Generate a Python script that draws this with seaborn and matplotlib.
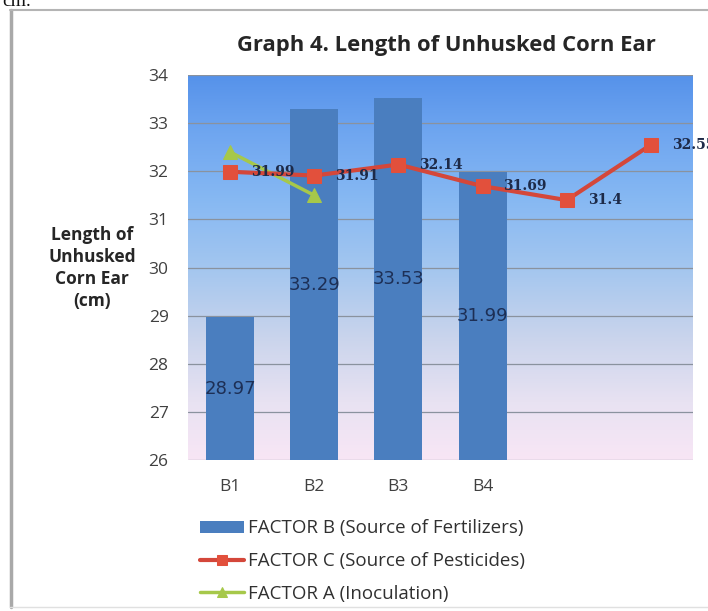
import numpy as np
import pandas as pd
import matplotlib
matplotlib.use("Agg")
import matplotlib.pyplot as plt
import seaborn as sns
from matplotlib.colors import LinearSegmentedColormap
from matplotlib.lines import Line2D

# Data
categories = ["B1", "B2", "B3", "B4"]
factor_b = [28.97, 33.29, 33.53, 31.99]                 # Source of Fertilizers (bars)
factor_c = [31.99, 31.91, 32.14, 31.69, 31.4, 32.55]    # Source of Pesticides (line)
factor_a = [32.4, 31.5]                                 # Inoculation (line)
y_ticks = [26, 27, 28, 29, 30, 31, 32, 33, 34]

label_b = "FACTOR B (Source of Fertilizers)"
label_c = "FACTOR C (Source of Pesticides)"
label_a = "FACTOR A (Inoculation)"

sns.set_theme(style="white")
plt.rcParams["font.family"] = ["Open Sans", "DejaVu Sans"]

W, H = 708, 611
fig = plt.figure(figsize=(W / 100, H / 100), dpi=100)
fig.patch.set_facecolor("white")
ax = fig.add_axes([188 / W, 1 - 460 / H, 505 / W, 385 / H])

# Vertical gradient fill of the plotting area (pink at bottom -> blue at top)
grad_cmap = LinearSegmentedColormap.from_list(
    "bg",
    [(0.00, "#f8e6f5"), (0.15, "#e8e2f2"), (0.32, "#c9d4ec"),
     (0.50, "#a3c6ef"), (0.68, "#86b8f3"), (0.85, "#6fa6f0"), (1.00, "#5692ea")],
)
grad = np.linspace(0, 1, 256).reshape(-1, 1)
ax.imshow(grad, extent=[0, 1, 0, 1], transform=ax.transAxes, origin="lower",
          aspect="auto", cmap=grad_cmap, zorder=0)

# Bars
df_b = pd.DataFrame({"group": categories, "length": factor_b})
sns.barplot(data=df_b, x="group", y="length", color="#4a7ebf", saturation=1,
            width=0.57, ax=ax, zorder=3, label=label_b, linewidth=0,
            edgecolor="#4a7ebf")

# Lines
df_c = pd.DataFrame({"pos": np.arange(len(factor_c)), "length": factor_c})
sns.lineplot(data=df_c, x="pos", y="length", ax=ax, color="#d4473a", linewidth=3,
             marker="s", markersize=10, markerfacecolor="#e2503c",
             markeredgecolor="#e2503c", zorder=5, label=label_c)
df_a = pd.DataFrame({"pos": np.arange(len(factor_a)), "length": factor_a})
sns.lineplot(data=df_a, x="pos", y="length", ax=ax, color="#a6c84a", linewidth=2.5,
             marker="^", markersize=10, markerfacecolor="#a6c84a",
             markeredgecolor="#a6c84a", zorder=4, label=label_a)

# Value labels
for i, v in enumerate(factor_b):
    ax.text(i, (y_ticks[0] + v) / 2, f"{v:.2f}", ha="center", va="center",
            fontsize=13, color="#1d2f55", family="DejaVu Sans", zorder=7)
for i, v in enumerate(factor_c):
    ax.annotate(f"{v:g}", (i, v), xytext=(15, 0), textcoords="offset points",
                ha="left", va="center", fontsize=10, fontweight="bold",
                family="DejaVu Serif", color="#1d2a48", zorder=8,
                annotation_clip=False)

# Axes styling
ax.set_xlim(-0.5, 5.5)
ax.set_ylim(y_ticks[0], y_ticks[-1])
ax.set_yticks(y_ticks)
ax.set_xticks(range(len(categories)))
ax.set_xticklabels(categories)
ax.set_xlabel("")
ax.set_ylabel("")
ax.grid(axis="y", color="#8a929e", linewidth=0.9)
ax.grid(axis="x", visible=False)
ax.set_axisbelow(True)
for s in ax.spines.values():
    s.set_visible(False)
ax.tick_params(axis="both", length=0, labelsize=12.5, labelcolor="#404040")
ax.tick_params(axis="y", pad=14)
ax.tick_params(axis="x", pad=14)

# Title and y-axis caption
fig.text(446 / W, 1 - 46 / H, "Graph 4. Length of Unhusked Corn Ear",
         ha="center", va="center", fontsize=15.8, fontweight="bold", color="#262626")
fig.text(92 / W, 1 - 268 / H, "Length of\nUnhusked\nCorn Ear\n(cm)",
         ha="center", va="center", fontsize=12.5, fontweight="bold",
         color="#262626", linespacing=1.3)

# Legend below the plot: B, C, A
handles, labels = ax.get_legend_handles_labels()
order = [labels.index(label_b), labels.index(label_c), labels.index(label_a)]
leg = ax.get_legend()
if leg is not None:
    leg.remove()
fig.legend([handles[k] for k in order], [labels[k] for k in order],
           loc="upper left", bbox_to_anchor=(192 / W, 1 - 512 / H),
           frameon=False, fontsize=13.5, handlelength=2.35, handletextpad=0.25,
           handleheight=0.65, labelspacing=0.78, borderaxespad=0,
           markerscale=0.7, labelcolor="#303030")

# Surrounding frame and page text
fig.add_artist(Line2D([11 / W, 11 / W], [1 - 10 / H, 1 - 607 / H],
                      transform=fig.transFigure, color="#a9a9a9", linewidth=2.5))
fig.add_artist(Line2D([10 / W, 1], [1 - 10 / H, 1 - 10 / H],
                      transform=fig.transFigure, color="#b4b4b4", linewidth=1.5))
fig.add_artist(Line2D([10 / W, 1], [1 - 607 / H, 1 - 607 / H],
                      transform=fig.transFigure, color="#e0e0e0", linewidth=1))
fig.text(2 / W, 1 - 6 / H, "cm.", ha="left", va="baseline", fontsize=14,
         family="Liberation Serif", color="#111111")

fig.savefig("out.png", dpi=100)
